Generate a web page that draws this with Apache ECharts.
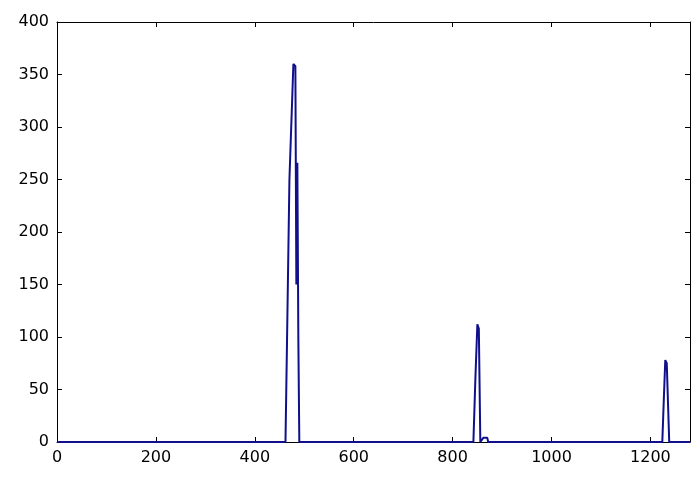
<!DOCTYPE html>
<html>
<head>
<meta charset="utf-8">
<script src="https://cdn.jsdelivr.net/npm/echarts@6/dist/echarts.min.js"></script>
<style>html,body{margin:0;padding:0;background:#fff}#c{width:700px;height:483px}</style>
</head>
<body>
<div id="c"></div>
<script>
// x positions (bin index) and histogram counts
const xs = [0, 462, 465, 470, 478, 482, 484, 486, 488, 490, 842, 846, 850, 853, 856, 860, 862, 866, 870, 872, 1224, 1227, 1230, 1233, 1238, 1280];
const ys = [0, 0, 92, 250, 360, 358, 150, 266, 100, 0, 0, 60, 112, 108, 0, 0, 4, 5, 4, 0, 0, 40, 78, 75, 0, 0];
const xTicks = [0, 200, 400, 600, 800, 1000, 1200];
const yTicks = [0, 50, 100, 150, 200, 250, 300, 350, 400];

const data = xs.map((x, i) => [x, ys[i]]);
const font = {fontFamily: 'DejaVu Sans', fontSize: 16, color: '#000', formatter: v => String(v)};
const line = {show: true, onZero: false, lineStyle: {color: '#000', width: 1}};
const tick = {show: true, inside: true, length: 5, lineStyle: {color: '#000'}};

const chart = echarts.init(document.getElementById('c'));
chart.setOption({
  animation: false,
  grid: {left: 57, right: 10, top: 22, bottom: 41},
  xAxis: [
    {type: 'value', min: 0, max: 1280, interval: 200, position: 'bottom',
     axisLine: line, axisTick: tick, splitLine: {show: false},
     axisLabel: Object.assign({margin: 8, showMaxLabel: false}, font)},
    {type: 'value', min: 0, max: 1280, interval: 200, position: 'top',
     axisLine: line, axisTick: tick, splitLine: {show: false}, axisLabel: {show: false}}
  ],
  yAxis: [
    {type: 'value', min: 0, max: 400, interval: 50, position: 'left',
     axisLine: line, axisTick: tick, splitLine: {show: false},
     axisLabel: Object.assign({margin: 8}, font)},
    {type: 'value', min: 0, max: 400, interval: 50, position: 'right',
     axisLine: line, axisTick: tick, splitLine: {show: false}, axisLabel: {show: false}}
  ],
  series: [{
    type: 'line', data: data, symbol: 'none', xAxisIndex: 0, yAxisIndex: 0,
    lineStyle: {color: '#10108c', width: 2}
  }]
});
</script>
</body>
</html>
